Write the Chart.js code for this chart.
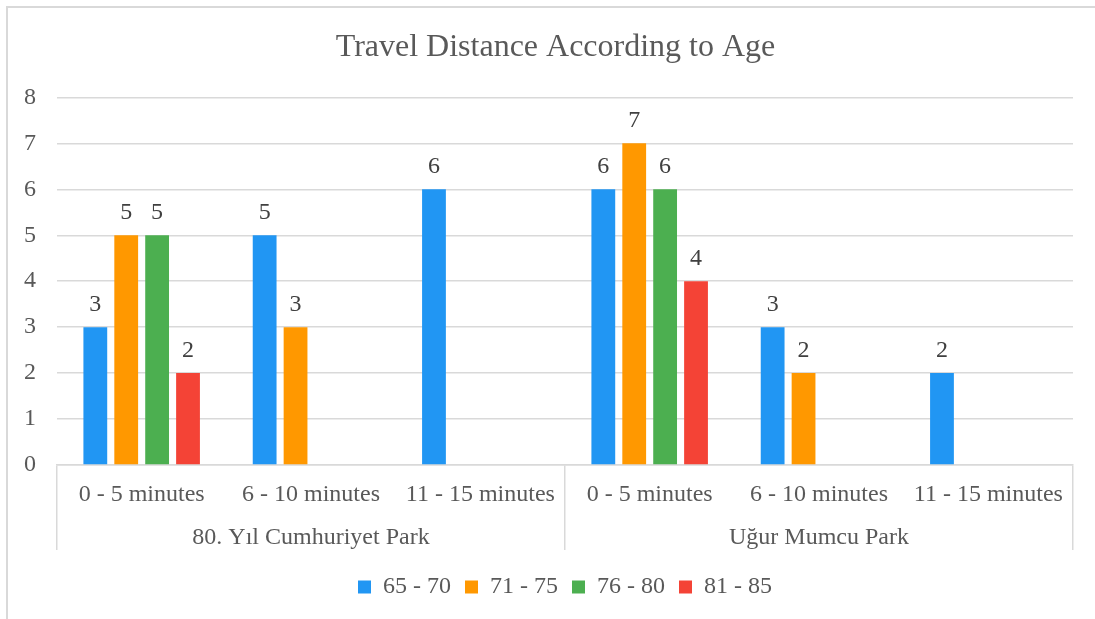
<!DOCTYPE html>
<html>
<head>
<meta charset="utf-8">
<script src="https://cdn.jsdelivr.net/npm/chart.js@4/dist/chart.umd.min.js"></script>
<style>
  html, body { margin: 0; padding: 0; background: #ffffff; overflow: hidden; }
  #frame { position: relative; width: 1095px; height: 619px; overflow: hidden; }
  #frame::before {
    content: ""; position: absolute; left: 6px; top: 6px; width: 1200px; height: 700px;
    border-left: 2px solid #d9d9d9; border-top: 2px solid #d9d9d9;
  }
  canvas { position: absolute; left: 0; top: 0; }
</style>
</head>
<body>
<div id="frame"><canvas id="chart" width="1095" height="619"></canvas></div>
<script>
// Travel time bands, repeated for each park
const minuteBands = ['0 - 5 minutes', '6 - 10 minutes', '11 - 15 minutes',
                     '0 - 5 minutes', '6 - 10 minutes', '11 - 15 minutes'];
const parks = ['80. Yıl Cumhuriyet Park', 'Uğur Mumcu Park'];
const ageGroups = ['65 - 70', '71 - 75', '76 - 80', '81 - 85'];

// Number of respondents per band, one array per age group
const age65to70 = [3, 5, 6, 6, 3, 2];
const age71to75 = [5, 3, null, 7, 2, null];
const age76to80 = [5, null, null, 6, null, null];
const age81to85 = [2, null, null, 4, null, null];

const yMin = 0;
const yMax = 8;
const yStep = 1;

const seriesColors = ['#2196F3', '#FF9800', '#4CAF50', '#F44336'];
const SERIF = '"Liberation Serif", "Times New Roman", serif';
const GRID = '#d9d9d9';
const TEXT = '#595959';

// Writes each bar's value above it
const valueLabels = {
  id: 'valueLabels',
  afterDatasetsDraw(chart) {
    const { ctx } = chart;
    ctx.save();
    ctx.font = '24px ' + SERIF;
    ctx.fillStyle = '#404040';
    ctx.textAlign = 'center';
    ctx.textBaseline = 'alphabetic';
    chart.data.datasets.forEach((ds, i) => {
      const meta = chart.getDatasetMeta(i);
      meta.data.forEach((bar, j) => {
        const v = ds.data[j];
        if (v === null || v === undefined) return;
        ctx.fillText(String(v), bar.x, bar.y - 16);
      });
    });
    ctx.restore();
  }
};

Chart.defaults.font.family = SERIF;
Chart.defaults.font.size = 24;
Chart.defaults.color = TEXT;

const seriesValues = [age65to70, age71to75, age76to80, age81to85];

new Chart(document.getElementById('chart'), {
  type: 'bar',
  data: {
    labels: minuteBands,
    datasets: ageGroups.map((name, i) => ({
      label: name,
      data: seriesValues[i],
      backgroundColor: seriesColors[i],
      borderWidth: 0,
      categoryPercentage: 0.73,
      barPercentage: 0.77
    }))
  },
  options: {
    responsive: false,
    animation: false,
    layout: { padding: { left: 38, right: 22, top: 28, bottom: 10 } },
    plugins: {
      title: {
        display: true,
        text: 'Travel Distance According to Age',
        color: TEXT,
        font: { size: 32, weight: 'normal', family: SERIF },
        padding: { top: 0, bottom: 31 }
      },
      legend: {
        position: 'bottom',
        fullSize: false,
        labels: {
          boxWidth: 13,
          boxHeight: 13,
          padding: 14,
          color: TEXT,
          font: { size: 24, family: SERIF }
        }
      },
      tooltip: { enabled: false }
    },
    scales: {
      y: {
        min: yMin,
        max: yMax,
        ticks: { stepSize: yStep, mirror: true, padding: -33, color: TEXT, font: { size: 24 } },
        grid: { color: GRID, lineWidth: 1.5, drawTicks: false },
        border: { display: false },
        afterFit: (scale) => { scale.width = 19; }
      },
      x: {
        position: 'bottom',
        ticks: { padding: -29, maxRotation: 0, autoSkip: false, color: TEXT, font: { size: 24 } },
        grid: {
          offset: true,
          drawOnChartArea: false,
          tickLength: 44,
          lineWidth: 1.5,
          color: (ctx) => (ctx.type !== 'tick' || ctx.index % 3 === 0) ? GRID : 'rgba(0,0,0,0)'
        },
        border: { color: GRID, width: 1.5 },
        afterFit: (scale) => { scale.height = 44; }
      },
      x2: {
        type: 'category',
        labels: parks,
        position: 'bottom',
        offset: true,
        ticks: { padding: -27, maxRotation: 0, autoSkip: false, color: TEXT, font: { size: 24 } },
        grid: { offset: true, drawOnChartArea: false, tickLength: 41, lineWidth: 1.5, color: GRID },
        border: { display: false },
        afterFit: (scale) => { scale.height = 52; }
      }
    }
  },
  plugins: [valueLabels]
});
</script>
</body>
</html>
